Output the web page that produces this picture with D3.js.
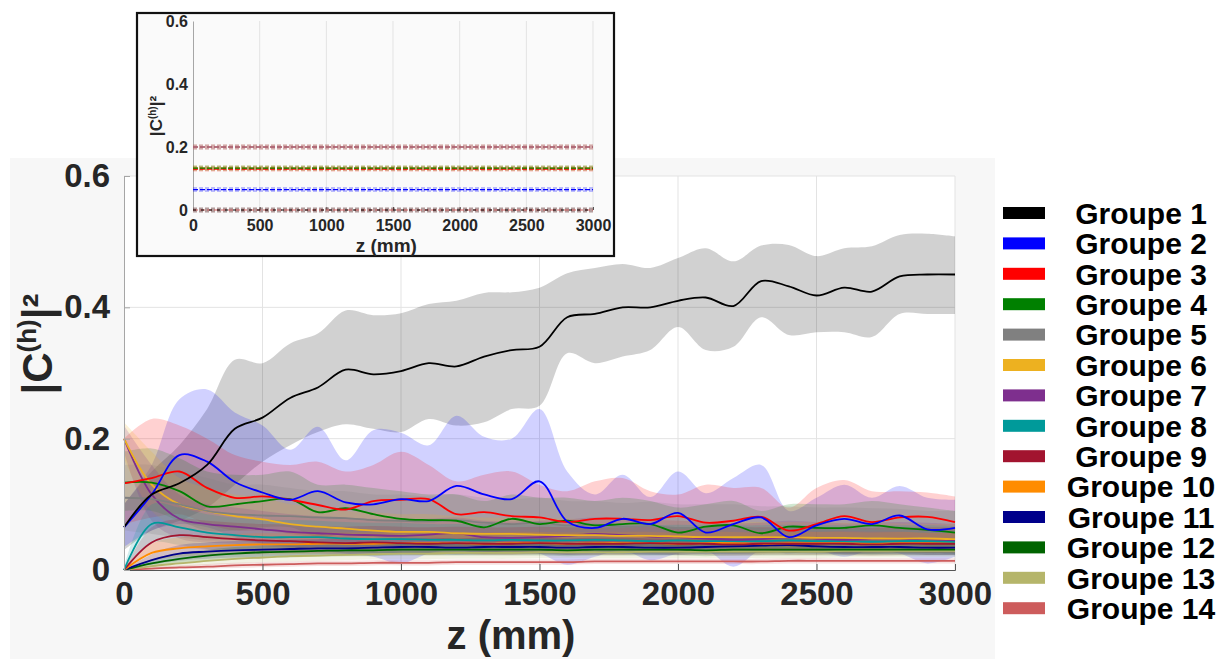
<!DOCTYPE html>
<html>
<head>
<meta charset="utf-8">
<style>
  body { margin: 0; background: #fff; }
  svg { display: block; font-family: "Liberation Sans", Arial, sans-serif; }
</style>
</head>
<body>
<svg width="1228" height="659"></svg>
<script src="https://d3js.org/d3.v7.min.js"></script>
<script>
// z positions (mm) shared by every group
var zGrid = [0,100,200,300,400,500,600,700,800,900,1000,1100,1200,1300,1400,1500,
             1600,1700,1800,1900,2000,2100,2200,2300,2400,2500,2600,2700,2800,2900,3000];

var groupNames = ["Groupe 1","Groupe 2","Groupe 3","Groupe 4","Groupe 5","Groupe 6","Groupe 7",
                  "Groupe 8","Groupe 9","Groupe 10","Groupe 11","Groupe 12","Groupe 13","Groupe 14"];
var groupColors = ["#000000","#0000ff","#ff0000","#008000","#808080","#edb120","#7e2f8e",
                   "#009a9a","#a2142f","#ff8c00","#00008b","#006400","#b5b56a","#cd5c5c"];

// mean |C(h)|^2 per group
var mean1 = [.065,.115,.132,.16,.215,.232,.262,.278,.305,.298,.303,.315,.31,.325,.335,.34,.385,.39,.4,.4,.41,.415,.402,.44,.432,.418,.43,.424,.447,.45,.45];
var mean2 = [.065,.115,.175,.165,.134,.118,.107,.12,.103,.1,.108,.105,.128,.115,.108,.135,.074,.064,.078,.07,.087,.057,.07,.08,.05,.068,.078,.07,.083,.062,.064];
var mean3 = [.132,.14,.15,.125,.11,.112,.107,.099,.092,.105,.107,.108,.085,.088,.082,.08,.073,.078,.078,.076,.082,.072,.075,.081,.06,.07,.082,.073,.08,.081,.073];
var mean4 = [.133,.133,.12,.097,.1,.105,.108,.088,.094,.085,.078,.076,.075,.065,.078,.07,.075,.068,.07,.07,.057,.066,.068,.056,.066,.064,.064,.068,.064,.061,.057];
var mean5 = [.11,.108,.1,.09,.085,.083,.082,.08,.079,.076,.075,.074,.076,.072,.07,.072,.068,.069,.066,.067,.064,.065,.066,.062,.063,.06,.061,.06,.06,.058,.058];
var mean6 = [.2,.13,.1,.09,.082,.077,.07,.066,.063,.06,.058,.058,.056,.055,.055,.054,.053,.053,.052,.052,.051,.05,.05,.05,.05,.049,.049,.048,.048,.048,.047];
var mean7 = [.2,.115,.078,.07,.066,.062,.058,.056,.054,.053,.052,.054,.056,.05,.049,.05,.052,.055,.053,.051,.05,.048,.046,.047,.05,.048,.046,.047,.048,.047,.045];
var mean8 = [0,.07,.065,.057,.053,.05,.05,.05,.048,.047,.047,.046,.046,.045,.046,.045,.045,.046,.045,.044,.045,.044,.044,.044,.045,.044,.044,.043,.044,.044,.043];
var mean9 = [0,.042,.053,.05,.047,.045,.044,.042,.041,.042,.041,.04,.041,.04,.04,.041,.04,.04,.04,.041,.04,.04,.039,.04,.04,.04,.04,.039,.04,.04,.04];
var mean10 = [0,.026,.033,.036,.038,.039,.039,.04,.04,.04,.041,.041,.041,.04,.041,.041,.04,.041,.041,.041,.04,.041,.041,.04,.041,.041,.041,.04,.041,.041,.041];
var mean11 = [0,.015,.025,.028,.03,.031,.032,.033,.033,.034,.035,.035,.034,.035,.035,.035,.034,.035,.035,.034,.034,.035,.036,.037,.038,.036,.035,.035,.035,.034,.034];
var mean12 = [0,.01,.017,.022,.025,.027,.028,.029,.03,.03,.031,.031,.031,.031,.031,.031,.03,.031,.031,.031,.031,.03,.031,.031,.031,.031,.031,.031,.031,.031,.031];
var mean13 = [0,.006,.01,.014,.017,.019,.021,.022,.023,.024,.025,.025,.026,.026,.026,.027,.027,.027,.027,.028,.028,.028,.028,.028,.028,.028,.029,.029,.029,.029,.029];
var mean14 = [0,.002,.004,.005,.007,.008,.009,.01,.01,.011,.011,.011,.012,.012,.012,.012,.012,.013,.013,.013,.013,.013,.013,.013,.014,.014,.014,.014,.014,.014,.014];

// lower / upper envelope per group
var lo1 = [.03,.06,.075,.095,.13,.165,.19,.21,.222,.215,.21,.23,.22,.225,.245,.25,.33,.315,.325,.335,.37,.335,.34,.385,.358,.362,.362,.355,.39,.39,.39];
var hi1 = [.1,.15,.19,.245,.32,.315,.345,.36,.395,.388,.391,.405,.41,.422,.423,.43,.452,.46,.466,.46,.475,.49,.47,.494,.495,.478,.49,.493,.51,.512,.508];
var lo2 = [.035,.06,.07,.065,.05,.04,.035,.03,.025,.02,.01,.025,.03,.025,.03,.025,.008,.02,.03,.015,.025,.03,.005,.03,.025,.03,.02,.03,.025,.01,.02];
var hi2 = [.1,.16,.26,.275,.24,.22,.183,.218,.167,.213,.209,.19,.235,.203,.2,.245,.15,.115,.145,.111,.15,.117,.14,.16,.09,.11,.13,.11,.128,.11,.107];
var lo3 = [.07,.08,.085,.07,.06,.06,.055,.05,.045,.05,.05,.05,.045,.045,.04,.04,.04,.04,.04,.04,.04,.038,.038,.04,.035,.035,.04,.038,.04,.04,.038];
var hi3 = [.2,.23,.22,.2,.175,.165,.16,.165,.15,.16,.18,.16,.135,.145,.15,.13,.12,.135,.14,.12,.115,.13,.125,.125,.095,.125,.137,.12,.12,.118,.112];
var lo4 = [.09,.09,.075,.06,.06,.065,.065,.05,.055,.05,.045,.045,.045,.04,.045,.04,.045,.04,.04,.04,.035,.04,.04,.035,.04,.04,.04,.04,.04,.035,.035];
var hi4 = [.18,.185,.17,.15,.145,.145,.15,.13,.13,.125,.12,.115,.115,.105,.115,.11,.11,.105,.11,.105,.095,.1,.105,.09,.1,.1,.1,.105,.1,.095,.09];
var lo5 = [.06,.055,.05,.045,.045,.04,.04,.04,.04,.04,.038,.038,.038,.036,.035,.036,.034,.034,.033,.033,.032,.032,.032,.031,.031,.03,.03,.03,.03,.03,.03];
var hi5 = [.16,.16,.15,.14,.13,.13,.125,.12,.12,.115,.115,.112,.115,.11,.108,.11,.105,.105,.102,.104,.1,.1,.1,.097,.097,.095,.095,.094,.093,.09,.09];
var lo6 = [.17,.09,.065,.058,.052,.048,.045,.042,.04,.038,.037,.036,.035,.035,.034,.034,.033,.033,.033,.032,.032,.032,.031,.031,.031,.031,.03,.03,.03,.03,.03];
var hi6 = [.225,.18,.14,.125,.115,.11,.1,.095,.09,.088,.085,.085,.082,.08,.08,.079,.078,.077,.076,.076,.075,.074,.074,.073,.073,.072,.072,.071,.071,.07,.07];
var lo7 = [.18,.075,.048,.042,.04,.036,.034,.033,.031,.03,.03,.031,.032,.028,.027,.028,.03,.032,.03,.029,.028,.027,.025,.026,.028,.027,.025,.026,.027,.026,.025];
var hi7 = [.22,.16,.115,.1,.095,.09,.085,.082,.08,.078,.077,.078,.08,.075,.074,.075,.077,.08,.078,.076,.075,.073,.071,.072,.075,.073,.071,.072,.073,.072,.07];
var lo8 = [0,.042,.038,.032,.03,.028,.028,.028,.027,.026,.026,.026,.026,.025,.026,.025,.025,.026,.025,.025,.025,.025,.025,.025,.025,.025,.025,.024,.025,.025,.024];
var hi8 = [.005,.1,.095,.085,.08,.077,.076,.075,.073,.072,.072,.07,.07,.07,.07,.069,.069,.07,.069,.068,.069,.068,.068,.068,.069,.068,.068,.067,.068,.068,.067];
var lo9 = [0,.025,.033,.031,.029,.027,.026,.025,.024,.025,.024,.023,.024,.023,.023,.024,.023,.023,.023,.024,.023,.023,.022,.023,.023,.023,.023,.022,.023,.023,.023];
var hi9 = [0,.065,.078,.075,.072,.07,.069,.067,.066,.067,.066,.065,.066,.065,.065,.066,.065,.065,.065,.066,.065,.065,.064,.065,.065,.065,.065,.064,.065,.065,.065];
var lo10 = [0,.014,.02,.022,.024,.024,.024,.025,.025,.025,.026,.026,.026,.025,.026,.026,.025,.026,.026,.026,.025,.026,.026,.025,.026,.026,.026,.025,.026,.026,.026];
var hi10 = [0,.04,.05,.053,.055,.056,.056,.057,.057,.057,.058,.058,.058,.057,.058,.058,.057,.058,.058,.058,.057,.058,.058,.057,.058,.058,.058,.057,.058,.058,.058];
var lo11 = [0,.008,.014,.017,.019,.02,.021,.022,.022,.023,.024,.024,.023,.024,.024,.024,.023,.024,.024,.023,.023,.024,.025,.026,.026,.025,.024,.024,.024,.023,.023];
var hi11 = [0,.024,.038,.042,.044,.045,.046,.047,.047,.048,.049,.049,.048,.049,.049,.049,.048,.049,.049,.048,.048,.049,.05,.051,.052,.05,.049,.049,.049,.048,.048];
var lo12 = [0,.005,.01,.014,.016,.018,.019,.02,.021,.021,.022,.022,.022,.022,.022,.022,.021,.022,.022,.022,.022,.021,.022,.022,.022,.022,.022,.022,.022,.022,.022];
var hi12 = [0,.016,.026,.031,.035,.037,.038,.039,.04,.04,.041,.041,.041,.041,.041,.041,.04,.041,.041,.041,.041,.04,.041,.041,.041,.041,.041,.041,.041,.041,.041];
var lo13 = [0,.003,.005,.008,.01,.012,.013,.014,.015,.016,.016,.016,.017,.017,.017,.018,.018,.018,.018,.018,.018,.018,.018,.018,.018,.018,.019,.019,.019,.019,.019];
var hi13 = [0,.01,.016,.021,.025,.027,.029,.031,.032,.033,.034,.034,.035,.035,.035,.036,.036,.036,.036,.037,.037,.037,.037,.037,.037,.037,.038,.038,.038,.038,.038];
var lo14 = [0,0,.001,.002,.003,.004,.005,.006,.006,.007,.007,.007,.008,.008,.008,.008,.008,.009,.009,.009,.009,.009,.009,.009,.01,.01,.01,.01,.01,.01,.01];
var hi14 = [0,.005,.007,.009,.011,.012,.013,.014,.014,.015,.015,.015,.016,.016,.016,.016,.016,.017,.017,.017,.017,.017,.017,.017,.018,.018,.018,.018,.018,.018,.018];

// inset: initial value of each plotted group (constant along z)
var insetValues = [0.2, 0.2, 0.2, 0.133, 0.13, 0.133, 0.065, 0, 0];
var insetColors = ["#d98b9c", "#edb120", "#7e2f8e", "#ff8c00", "#ff0000", "#008000", "#0000ff", "#cd5c5c", "#000000"];

var xTicks = [0, 500, 1000, 1500, 2000, 2500, 3000];
var yTicks = [0, 0.2, 0.4, 0.6];

var means = [mean1,mean2,mean3,mean4,mean5,mean6,mean7,mean8,mean9,mean10,mean11,mean12,mean13,mean14];
var los = [lo1,lo2,lo3,lo4,lo5,lo6,lo7,lo8,lo9,lo10,lo11,lo12,lo13,lo14];
var his = [hi1,hi2,hi3,hi4,hi5,hi6,hi7,hi8,hi9,hi10,hi11,hi12,hi13,hi14];

var groups = groupNames.map(function (name, i) {
    return {
        name: name,
        color: groupColors[i],
        points: zGrid.map(function (z, j) {
            return { z: z, m: means[i][j], lo: los[i][j], hi: his[i][j] };
        })
    };
});

var svg = d3.select("svg");

// figure background
svg.append("rect").attr("x", 10).attr("y", 158).attr("width", 985).attr("height", 501).attr("fill", "#f7f7f7");

var x = d3.scaleLinear().domain([0, 3000]).range([124, 955]);
var y = d3.scaleLinear().domain([0, 0.6]).range([570, 176]);

svg.append("rect")
    .attr("x", x(0)).attr("y", y(0.6))
    .attr("width", x(3000) - x(0)).attr("height", y(0) - y(0.6))
    .attr("fill", "#ffffff");

// grid
var grid = svg.append("g").attr("stroke", "#e3e3e3").attr("stroke-width", 1);
grid.selectAll("line.gx").data(xTicks.slice(1)).enter().append("line")
    .attr("x1", function (d) { return x(d); }).attr("x2", function (d) { return x(d); })
    .attr("y1", y(0)).attr("y2", y(0.6));
grid.selectAll("line.gy").data(yTicks.slice(1)).enter().append("line")
    .attr("x1", x(0)).attr("x2", x(3000))
    .attr("y1", function (d) { return y(d); }).attr("y2", function (d) { return y(d); });

var area = d3.area()
    .x(function (d) { return x(d.z); })
    .y0(function (d) { return y(d.lo); })
    .y1(function (d) { return y(d.hi); })
    .curve(d3.curveCatmullRom);

var line = d3.line()
    .x(function (d) { return x(d.z); })
    .y(function (d) { return y(d.m); })
    .curve(d3.curveCatmullRom);

svg.append("g").selectAll("path").data(groups).enter().append("path")
    .attr("d", function (d) { return area(d.points); })
    .attr("fill", function (d) { return d.color; })
    .attr("fill-opacity", 0.18);

svg.append("g").selectAll("path").data(groups.slice().reverse()).enter().append("path")
    .attr("d", function (d) { return line(d.points); })
    .attr("fill", "none")
    .attr("stroke", function (d) { return d.color; })
    .attr("stroke-width", 1.8)
    .attr("stroke-linejoin", "round");

// axes
var xAxis = svg.append("g").attr("transform", "translate(0," + y(0) + ")")
    .call(d3.axisBottom(x).tickValues(xTicks).tickSize(-6).tickPadding(12).tickFormat(d3.format("d")));
xAxis.select(".domain").attr("stroke", "#555");
xAxis.selectAll(".tick line").attr("stroke", "#555");
xAxis.selectAll("text").attr("font-size", 33).attr("font-weight", "bold").attr("fill", "#262626");

var yAxis = svg.append("g").attr("transform", "translate(" + x(0) + ",0)")
    .call(d3.axisLeft(y).tickValues(yTicks).tickSize(-6).tickPadding(14)
        .tickFormat(function (d) { return d === 0 ? "0" : d3.format(".1f")(d); }));
yAxis.select(".domain").attr("stroke", "#a6a6a6");
yAxis.selectAll(".tick line").attr("stroke", "#a6a6a6");
yAxis.selectAll("text").attr("font-size", 33).attr("font-weight", "bold").attr("fill", "#262626");

svg.append("text")
    .attr("x", 511).attr("y", 649)
    .attr("text-anchor", "middle")
    .attr("font-size", 40).attr("font-weight", "bold").attr("fill", "#262626")
    .text("z (mm)");

var yLab = svg.append("text")
    .attr("transform", "translate(52,344) rotate(-90)")
    .attr("text-anchor", "middle")
    .attr("font-size", 42).attr("font-weight", "bold").attr("fill", "#262626");
yLab.append("tspan").text("|C");
yLab.append("tspan").attr("font-size", 26).attr("dy", -16).text("(h)");
yLab.append("tspan").attr("dy", 16).text("|²");

// inset
var inset = svg.append("g");
inset.append("rect").attr("x", 137).attr("y", 13).attr("width", 477).attr("height", 243)
    .attr("fill", "#fafafa").attr("stroke", "#111").attr("stroke-width", 2.2);

var xi = d3.scaleLinear().domain([0, 3000]).range([193, 593]);
var yi = d3.scaleLinear().domain([0, 0.6]).range([210, 21]);

inset.append("g").selectAll("line").data(xTicks.slice(1)).enter().append("line")
    .attr("x1", function (d) { return xi(d); }).attr("x2", function (d) { return xi(d); })
    .attr("y1", yi(0)).attr("y2", yi(0.6))
    .attr("stroke", "#e3e3e3");

var xiAxis = inset.append("g").attr("transform", "translate(0," + yi(0) + ")")
    .call(d3.axisBottom(xi).tickValues(xTicks).tickSize(-3).tickPadding(10).tickFormat(d3.format("d")));
xiAxis.select(".domain").remove();
xiAxis.selectAll(".tick line").attr("stroke", "#555");
xiAxis.selectAll("text").attr("font-size", 16).attr("font-weight", "bold").attr("fill", "#262626");

var yiAxis = inset.append("g").attr("transform", "translate(" + xi(0) + ",0)")
    .call(d3.axisLeft(yi).tickValues(yTicks).tickSize(0).tickPadding(5)
        .tickFormat(function (d) { return d === 0 ? "0" : d3.format(".1f")(d); }));
yiAxis.select(".domain").attr("stroke", "#a6a6a6");
yiAxis.selectAll("text").attr("font-size", 16).attr("font-weight", "bold").attr("fill", "#262626");

inset.selectAll("line.halo").data(insetValues).enter().append("line")
    .attr("class", "halo")
    .attr("x1", xi(0)).attr("x2", xi(3000))
    .attr("y1", function (d) { return yi(d); }).attr("y2", function (d) { return yi(d); })
    .attr("stroke", function (d, i) { return insetColors[i]; })
    .attr("stroke-opacity", 0.25).attr("stroke-width", 5)
    .attr("stroke-dasharray", "4,2");
inset.selectAll("line.lev").data(insetValues).enter().append("line")
    .attr("class", "lev")
    .attr("x1", xi(0)).attr("x2", xi(3000))
    .attr("y1", function (d) { return yi(d); }).attr("y2", function (d) { return yi(d); })
    .attr("stroke", function (d, i) { return insetColors[i]; })
    .attr("stroke-width", 1.2)
    .attr("stroke-dasharray", function (d, i) { return i === insetValues.length - 1 ? "3,5" : "5,2"; });

inset.append("text")
    .attr("x", xi(1450)).attr("y", 252)
    .attr("text-anchor", "middle")
    .attr("font-size", 19).attr("font-weight", "bold").attr("fill", "#262626")
    .text("z (mm)");

var yiLab = inset.append("text")
    .attr("transform", "translate(162,116) rotate(-90)")
    .attr("text-anchor", "middle")
    .attr("font-size", 17).attr("font-weight", "bold").attr("fill", "#262626");
yiLab.append("tspan").text("|C");
yiLab.append("tspan").attr("font-size", 10).attr("dy", -6).text("(h)");
yiLab.append("tspan").attr("dy", 6).text("|²");

// legend
var legend = svg.append("g").selectAll("g").data(groups).enter().append("g")
    .attr("transform", function (d, i) { return "translate(0," + (213 + i * 30.4) + ")"; });
legend.append("rect")
    .attr("x", 1003).attr("y", -6).attr("width", 42).attr("height", 12)
    .attr("fill", function (d) { return d.color; });
legend.append("text")
    .attr("x", 1141).attr("dy", "0.36em")
    .attr("text-anchor", "middle")
    .attr("font-size", 30).attr("font-weight", "bold").attr("fill", "#000")
    .text(function (d) { return d.name; });
</script>
</body>
</html>
